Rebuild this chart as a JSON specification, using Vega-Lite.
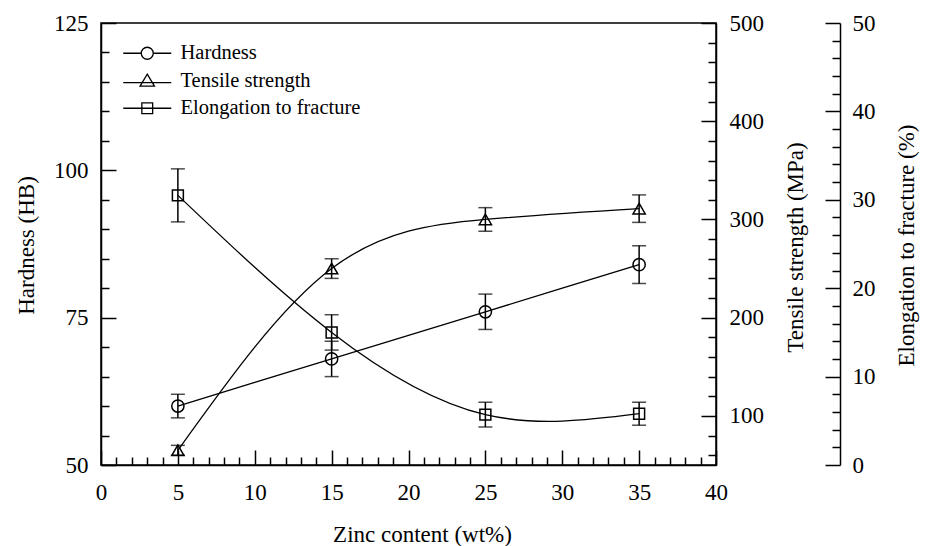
{
  "$schema": "https://vega.github.io/schema/vega-lite/v6.json",
  "width": 615,
  "height": 442,
  "autosize": "none",
  "padding": {"left": 101, "top": 23, "right": 213, "bottom": 81},
  "background": "white",
  "config": {
    "view": {"stroke": "black", "strokeWidth": 1.5},
    "font": "Liberation Serif",
    "axis": {
      "grid": false,
      "domainColor": "black",
      "domainWidth": 1.5,
      "tickColor": "black",
      "tickWidth": 1.5,
      "labelColor": "black",
      "titleColor": "black",
      "labelFont": "Liberation Serif",
      "titleFont": "Liberation Serif",
      "labelFontSize": 23,
      "titleFontSize": 23,
      "titleFontWeight": "normal",
      "labelOverlap": false,
      "labelFlush": false,
      "labelBound": false
    },
    "legend": {
      "labelFont": "Liberation Serif",
      "labelFontSize": 20.5,
      "labelColor": "black",
      "labelLimit": 0
    }
  },
  "datasets": {
    "alloy": [
      {"zinc": 5, "hardness": 60, "hardness_lo": 58, "hardness_hi": 62, "tensile": 65, "tensile_lo": 60, "tensile_hi": 70, "elongation": 30.5, "elongation_lo": 27.5, "elongation_hi": 33.5},
      {"zinc": 15, "hardness": 68, "hardness_lo": 65, "hardness_hi": 71, "tensile": 250, "tensile_lo": 240, "tensile_hi": 260, "elongation": 15, "elongation_lo": 13, "elongation_hi": 17},
      {"zinc": 25, "hardness": 76, "hardness_lo": 73, "hardness_hi": 79, "tensile": 300, "tensile_lo": 288, "tensile_hi": 312, "elongation": 5.7, "elongation_lo": 4.3, "elongation_hi": 7.1},
      {"zinc": 35, "hardness": 84, "hardness_lo": 80.8, "hardness_hi": 87.2, "tensile": 311, "tensile_lo": 297, "tensile_hi": 325, "elongation": 5.8, "elongation_lo": 4.5, "elongation_hi": 7.1}
    ],
    "series": [
      {"series": "Hardness"},
      {"series": "Tensile strength"},
      {"series": "Elongation to fracture"}
    ]
  },
  "encoding": {
    "x": {
      "field": "zinc",
      "type": "quantitative",
      "title": "Zinc content (wt%)",
      "scale": {"domain": [0, 40], "nice": false, "zero": false},
      "axis": {
        "orient": "bottom",
        "values": [0,1,2,3,4,5,6,7,8,9,10,11,12,13,14,15,16,17,18,19,20,21,22,23,24,25,26,27,28,29,30,31,32,33,34,35,36,37,38,39,40],
        "labelExpr": "datum.value % 5 === 0 ? datum.label : ''",
        "labelOverlap": false,
        "tickSize": {"condition": {"test": "datum.value % 5 === 0", "value": -15}, "value": -8},
        "labelPadding": 31,
        "titleX": 321,
        "titleY": 76,
        "titleBaseline": "alphabetic"
      }
    }
  },
  "layer": [
    {
      "data": {"name": "alloy"},
      "layer": [
        {
          "mark": {"type": "line", "interpolate": "natural", "color": "black", "strokeWidth": 1.3},
          "encoding": {
            "y": {
              "field": "hardness",
              "type": "quantitative",
              "title": "Hardness (HB)",
              "scale": {"domain": [50, 125], "nice": false, "zero": false},
              "axis": {
                "orient": "left",
                "values": [50, 75, 100, 125],
                "tickSize": -15,
                "labelPadding": 28,
                "titleAngle": -90,
                "titleX": -75,
                "titleY": 222,
                "titleBaseline": "middle",
                "titleAlign": "center"
              }
            }
          }
        },
        {
          "mark": {"type": "rule", "color": "black", "strokeWidth": 1.5},
          "encoding": {
            "y": {"field": "hardness_lo", "type": "quantitative", "title": "Hardness (HB)"},
            "y2": {"field": "hardness_hi"}
          }
        },
        {
          "mark": {"type": "tick", "orient": "horizontal", "color": "black", "size": 14, "thickness": 1.5},
          "encoding": {"y": {"field": "hardness_lo", "type": "quantitative", "title": "Hardness (HB)"}}
        },
        {
          "mark": {"type": "tick", "orient": "horizontal", "color": "black", "size": 14, "thickness": 1.5},
          "encoding": {"y": {"field": "hardness_hi", "type": "quantitative", "title": "Hardness (HB)"}}
        },
        {
          "mark": {"type": "point", "shape": "circle", "filled": false, "color": "black", "size": 150, "strokeWidth": 1.5, "opacity": 1},
          "encoding": {"y": {"field": "hardness", "type": "quantitative", "title": "Hardness (HB)"}}
        }
      ]
    },
    {
      "data": {"name": "alloy"},
      "mark": {"type": "point", "opacity": 0},
      "encoding": {
        "y": {
          "field": "hardness",
          "type": "quantitative",
          "scale": {"domain": [50, 125], "nice": false, "zero": false},
          "axis": {
            "orient": "left",
            "values": [55,60,65,70,80,85,90,95,105,110,115,120],
            "labels": false,
            "domain": false,
            "tickSize": -8,
            "title": null
          }
        }
      }
    },
    {
      "data": {"name": "alloy"},
      "layer": [
        {
          "mark": {"type": "line", "interpolate": "natural", "color": "black", "strokeWidth": 1.3},
          "encoding": {
            "y": {
              "field": "tensile",
              "type": "quantitative",
              "title": "Tensile strength (MPa)",
              "scale": {"domain": [50, 500], "nice": false, "zero": false},
              "axis": {
                "orient": "right",
                "values": [100, 200, 300, 400, 500],
                "tickSize": -15,
                "labelPadding": 28,
                "titleAngle": -90,
                "titleX": 79,
                "titleY": 224,
                "titleBaseline": "middle",
                "titleAlign": "center"
              }
            }
          }
        },
        {
          "mark": {"type": "rule", "color": "black", "strokeWidth": 1.5},
          "encoding": {
            "y": {"field": "tensile_lo", "type": "quantitative", "title": "Tensile strength (MPa)"},
            "y2": {"field": "tensile_hi"}
          }
        },
        {
          "mark": {"type": "tick", "orient": "horizontal", "color": "black", "size": 14, "thickness": 1.5},
          "encoding": {"y": {"field": "tensile_lo", "type": "quantitative", "title": "Tensile strength (MPa)"}}
        },
        {
          "mark": {"type": "tick", "orient": "horizontal", "color": "black", "size": 14, "thickness": 1.5},
          "encoding": {"y": {"field": "tensile_hi", "type": "quantitative", "title": "Tensile strength (MPa)"}}
        },
        {
          "mark": {"type": "point", "shape": "triangle-up", "filled": false, "color": "black", "size": 150, "strokeWidth": 1.5, "opacity": 1},
          "encoding": {"y": {"field": "tensile", "type": "quantitative", "title": "Tensile strength (MPa)"}}
        }
      ]
    },
    {
      "data": {"name": "alloy"},
      "mark": {"type": "point", "opacity": 0},
      "encoding": {
        "y": {
          "field": "tensile",
          "type": "quantitative",
          "scale": {"domain": [50, 500], "nice": false, "zero": false},
          "axis": {
            "orient": "right",
            "values": [60,80,120,140,160,180,220,240,260,280,320,340,360,380,420,440,460,480],
            "labels": false,
            "domain": false,
            "tickSize": -8,
            "title": null
          }
        }
      }
    },
    {
      "data": {"name": "alloy"},
      "layer": [
        {
          "mark": {"type": "line", "interpolate": "natural", "color": "black", "strokeWidth": 1.3},
          "encoding": {
            "y": {
              "field": "elongation",
              "type": "quantitative",
              "title": "Elongation to fracture (%)",
              "scale": {"domain": [0, 50], "nice": false, "zero": false},
              "axis": {
                "orient": "right",
                "offset": 124,
                "values": [0, 10, 20, 30, 40, 50],
                "tickSize": -15,
                "labelPadding": 27,
                "titleAngle": -90,
                "titleX": 66,
                "titleY": 222,
                "titleBaseline": "middle",
                "titleAlign": "center"
              }
            }
          }
        },
        {
          "mark": {"type": "rule", "color": "black", "strokeWidth": 1.5},
          "encoding": {
            "y": {"field": "elongation_lo", "type": "quantitative", "title": "Elongation to fracture (%)"},
            "y2": {"field": "elongation_hi"}
          }
        },
        {
          "mark": {"type": "tick", "orient": "horizontal", "color": "black", "size": 14, "thickness": 1.5},
          "encoding": {"y": {"field": "elongation_lo", "type": "quantitative", "title": "Elongation to fracture (%)"}}
        },
        {
          "mark": {"type": "tick", "orient": "horizontal", "color": "black", "size": 14, "thickness": 1.5},
          "encoding": {"y": {"field": "elongation_hi", "type": "quantitative", "title": "Elongation to fracture (%)"}}
        },
        {
          "mark": {"type": "point", "shape": "square", "filled": false, "color": "black", "size": 120, "strokeWidth": 1.5, "opacity": 1},
          "encoding": {"y": {"field": "elongation", "type": "quantitative", "title": "Elongation to fracture (%)"}}
        }
      ]
    },
    {
      "data": {"name": "alloy"},
      "mark": {"type": "point", "opacity": 0},
      "encoding": {
        "y": {
          "field": "elongation",
          "type": "quantitative",
          "scale": {"domain": [0, 50], "nice": false, "zero": false},
          "axis": {
            "orient": "right",
            "offset": 124,
            "values": [2,4,6,8,12,14,16,18,22,24,26,28,32,34,36,38,42,44,46,48],
            "labels": false,
            "domain": false,
            "tickSize": -8,
            "title": null
          }
        }
      }
    },
    {
      "data": {"name": "series"},
      "mark": {"type": "point", "filled": false, "color": "black", "opacity": 0},
      "encoding": {
        "x": {"value": 0},
        "shape": {
          "field": "series",
          "type": "nominal",
          "scale": {
            "domain": ["Hardness", "Tensile strength", "Elongation to fracture"],
            "range": [
              "M-4,0L-1,0M1,0L4,0M-1,0A1,1,0,1,1,1,0A1,1,0,1,1,-1,0Z",
              "M-4,0.3L4,0.3M0,-1.1L1.2,0.9L-1.2,0.9Z",
              "M-4,0L4,0M-0.9,-0.9L0.9,-0.9L0.9,0.9L-0.9,0.9Z"
            ]
          },
          "legend": {
            "title": null,
            "orient": "none",
            "legendX": 36,
            "legendY": 20,
            "symbolSize": 144,
            "symbolStrokeColor": "black",
            "symbolStrokeWidth": 1.3,
            "symbolFillColor": "transparent",
            "symbolOpacity": 1,
            "symbolOffset": 0,
            "labelOffset": 23,
            "rowPadding": 6.5,
            "padding": 0
          }
        }
      }
    }
  ],
  "resolve": {"scale": {"y": "independent"}}
}
